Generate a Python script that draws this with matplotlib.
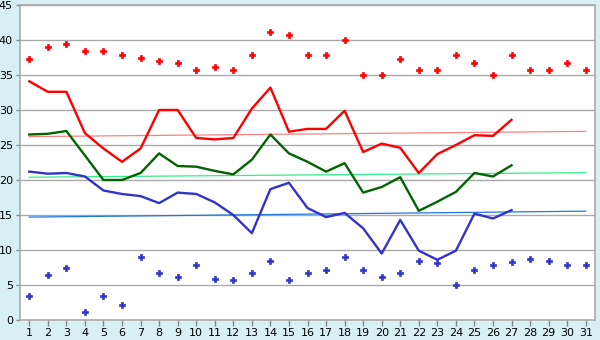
import matplotlib
matplotlib.use("Agg")
import matplotlib.pyplot as plt
import numpy as np

days = list(range(1, 32))
days_line = list(range(1, 28))

max_dots = [37.3, 39.0, 39.4, 38.4, 38.4, 37.8, 37.4, 37.0, 36.7, 35.7,
            36.1, 35.7, 37.8, 41.1, 40.7, 37.8, 37.8, 40.0, 35.0, 35.0,
            37.3, 35.7, 35.7, 37.8, 36.7, 35.0, 37.8, 35.7, 35.7, 36.7, 35.7]
min_dots = [3.4, 6.4, 7.4, 1.1, 3.4, 2.2, 9.0, 6.7, 6.1, 7.8,
            5.8, 5.7, 6.7, 8.4, 5.7, 6.7, 7.2, 9.0, 7.2, 6.1,
            6.7, 8.4, 8.1, 5.0, 7.2, 7.8, 8.3, 8.7, 8.4, 7.8, 7.8]

max_line = [34.1, 32.6, 32.6, 26.7, 24.5, 22.6, 24.5, 30.0, 30.0, 26.0,
            25.8, 26.0, 30.2, 33.2, 26.9, 27.3, 27.3, 29.9, 24.0, 25.2,
            24.6, 21.0, 23.7, 25.0, 26.4, 26.3, 28.6]
mean_line = [26.5, 26.6, 27.0, 23.5, 20.0, 20.0, 21.0, 23.8, 22.0, 21.9,
             21.3, 20.8, 22.9, 26.5, 23.8, 22.6, 21.2, 22.4, 18.2, 19.0,
             20.4, 15.6, 16.9, 18.3, 21.0, 20.5, 22.1]
min_line = [21.2, 20.9, 21.0, 20.5, 18.5, 18.0, 17.7, 16.7, 18.2, 18.0,
            16.8, 15.0, 12.4, 18.7, 19.6, 16.0, 14.7, 15.3, 13.1, 9.5,
            14.3, 9.9, 8.6, 9.9, 15.2, 14.5, 15.7]

trend_max = [26.2, 26.95]
trend_mean = [20.4, 21.05]
trend_min = [14.7, 15.55]
trend_x = [1, 31]

yticks = list(range(0, 50, 5))

fig = plt.figure(figsize=(6, 3.4), dpi=100)
fig.patch.set_facecolor('#d9eff6')
ax = fig.add_axes([20/600, 20/340, 575/600, 315/340])
ax.set_facecolor('white')

for y in yticks[1:]:
    ax.axhline(y, color='#aaaaaa', lw=1.0, zorder=0)

ax.plot(trend_x, trend_max, color='#ff8080', lw=0.9, zorder=2)
ax.plot(trend_x, trend_mean, color='#33ee88', lw=0.9, zorder=2)
ax.plot(trend_x, trend_min, color='#1e78e8', lw=0.9, zorder=2)

ax.plot(days_line, max_line, color='#ff0000', lw=1.7, zorder=3)
ax.plot(days_line, mean_line, color='#006400', lw=1.7, zorder=3)
ax.plot(days_line, min_line, color='#3333cc', lw=1.7, zorder=3)

ax.plot(days, max_dots, linestyle='none', marker='P', ms=4, color='#ff0000',
        mec='#ff0000', mew=0.5, zorder=4)
ax.plot(days, min_dots, linestyle='none', marker='P', ms=4, color='#3333cc',
        mec='#3333cc', mew=0.5, zorder=4)

ax.set_xlim(0.5, 31.5)
ax.set_ylim(0, 45)
ax.set_xticks(days)
ax.set_xticklabels([str(d) for d in days], fontsize=8)
ax.set_yticks(yticks)
ax.set_yticklabels([str(y) for y in yticks], fontsize=8)
ax.tick_params(axis='x', length=4, width=1, color='#888888', pad=2)
ax.tick_params(axis='y', length=3, width=1, color='#888888', pad=2)
for s in ax.spines.values():
    s.set_color('#aaaaaa')
    s.set_linewidth(1.2)

fig.savefig('out.png', dpi=100, facecolor=fig.get_facecolor())
